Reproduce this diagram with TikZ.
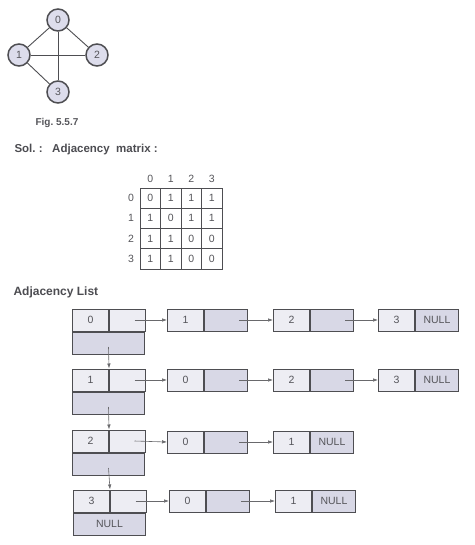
\documentclass[tikz,border=0pt]{standalone}
\usepackage{fontspec}
\setsansfont{Liberation Sans}
\definecolor{lsLine}{HTML}{4E4E52}
\definecolor{lsText}{HTML}{55555A}
\definecolor{lsNode}{HTML}{DDDDEC}
\definecolor{lsLight}{HTML}{EDEDF3}
\definecolor{lsDark}{HTML}{D8D8E6}
\usetikzlibrary{arrows.meta}

\begin{document}
\begin{tikzpicture}[x=1pt, y=-1pt, font=\sffamily, text=lsText,
  vertex/.style={circle, draw=lsLine, line width=1.5pt, fill=lsNode,
    minimum size=22pt, inner sep=0pt, font=\sffamily\fontsize{10.5}{12}\selectfont},
  edge/.style={lsLine, line width=0.9pt},
  mcell/.style={draw=lsLine, line width=0.9pt, minimum width=20.5pt,
    minimum height=20.25pt, inner sep=0pt, font=\sffamily\fontsize{10.5}{12}\selectfont},
  datacell/.style={draw=lsLine, line width=1pt, fill=lsLight, anchor=west,
    minimum width=36pt, minimum height=22pt, inner sep=0pt,
    font=\sffamily\fontsize{10.5}{12}\selectfont},
  ptrcell/.style={datacell, fill=lsDark, minimum width=43pt},
  headbot/.style={datacell, fill=lsDark, anchor=north west, minimum width=72pt},
  link/.style={lsLine!85, line width=0.6pt, -{Latex[length=5pt,width=3.5pt]}},
  title/.style={font=\sffamily\bfseries\fontsize{11.5}{13}\selectfont,
    text=lsText!90!black, anchor=west}]
  \useasboundingbox (0,0) rectangle (474,545);

  % Graph of Fig. 5.5.7
  \node[vertex] (g0) at (58,20) {0};
  \node[vertex] (g1) at (19,55) {1};
  \node[vertex] (g2) at (97,55) {2};
  \node[vertex] (g3) at (58,92) {3};
  \draw[edge] (g0) -- (g1);
  \draw[edge] (g0) -- (g2);
  \draw[edge] (g0) -- (g3);
  \draw[edge] (g1) -- (g2);
  \draw[edge] (g1) -- (g3);
  \node[font=\sffamily\bfseries\fontsize{10}{12}\selectfont] (fig) at (57,123) {Fig.\ 5.5.7};

  % Adjacency matrix
  \node[title] (sol) at (11,150) {Sol.\ :\ \ \ Adjacency\ \ matrix\ :};
  \foreach \c in {0,...,3} {
    \node[font=\sffamily\fontsize{10.5}{12}\selectfont] (mc\c) at (150.25+20.5*\c,179) {\c};
    \node[font=\sffamily\fontsize{10.5}{12}\selectfont] (mr\c) at (131,198.1+20.25*\c) {\c};
  }
  \foreach \v [count=\i from 0] in {0,1,1,1, 1,0,1,1, 1,1,0,0, 1,1,0,0} {
    \pgfmathtruncatemacro{\r}{\i/4}
    \pgfmathtruncatemacro{\c}{\i-4*\r}
    \node[mcell] (m\r\c) at (150.25+20.5*\c,198.1+20.25*\r) {\v};
  }

  % Adjacency list
  \node[title, font=\sffamily\bfseries\fontsize{12}{14}\selectfont] (adj) at (10,292) {Adjacency List};

  % row 0
  \node[datacell] (h0v) at (72,320) {0};
  \node[datacell] (h0p) at (h0v.east) {};
  \node[headbot] (h0b) at (h0v.south west) {};
  \node[datacell] (r0a) at (167,320) {1};
  \node[ptrcell] (r0ap) at (r0a.east) {};
  \node[datacell] (r0b) at (273,320) {2};
  \node[ptrcell] (r0bp) at (r0b.east) {};
  \node[datacell] (r0c) at (378,320) {3};
  \node[ptrcell] (r0cp) at (r0c.east) {NULL};

  % row 1
  \node[datacell] (h1v) at (72,380) {1};
  \node[datacell] (h1p) at (h1v.east) {};
  \node[headbot] (h1b) at (h1v.south west) {};
  \node[datacell] (r1a) at (167,380) {0};
  \node[ptrcell] (r1ap) at (r1a.east) {};
  \node[datacell] (r1b) at (273,380) {2};
  \node[ptrcell] (r1bp) at (r1b.east) {};
  \node[datacell] (r1c) at (378,380) {3};
  \node[ptrcell] (r1cp) at (r1c.east) {NULL};

  % row 2
  \node[datacell] (h2v) at (72,441) {2};
  \node[datacell] (h2p) at (h2v.east) {};
  \node[headbot] (h2b) at (h2v.south west) {};
  \node[datacell] (r2a) at (167,442) {0};
  \node[ptrcell] (r2ap) at (r2a.east) {};
  \node[datacell] (r2b) at (273,442) {1};
  \node[ptrcell] (r2bp) at (r2b.east) {NULL};

  % row 3
  \node[datacell] (h3v) at (73,501) {3};
  \node[datacell] (h3p) at (h3v.east) {};
  \node[headbot] (h3b) at (h3v.south west) {NULL};
  \node[datacell] (r3a) at (169,501) {0};
  \node[ptrcell] (r3ap) at (r3a.east) {};
  \node[datacell] (r3b) at (275,501) {1};
  \node[ptrcell] (r3bp) at (r3b.east) {NULL};

  % links along the rows
  \draw[link] ([xshift=7pt]h0p.center) -- (r0a.west);
  \draw[link] ([xshift=13pt]r0ap.center) -- (r0b.west);
  \draw[link] ([xshift=13pt]r0bp.center) -- (r0c.west);
  \draw[link] ([xshift=7pt]h1p.center) -- (r1a.west);
  \draw[link] ([xshift=13pt]r1ap.center) -- (r1b.west);
  \draw[link] ([xshift=13pt]r1bp.center) -- (r1c.west);
  \draw[link] ([xshift=7pt]h2p.center) -- (r2a.west);
  \draw[link] ([xshift=13pt]r2ap.center) -- (r2b.west);
  \draw[link] ([xshift=7pt]h3p.center) -- (r3a.west);
  \draw[link] ([xshift=13pt]r3ap.center) -- (r3b.west);

  % links down the header list
  \draw[link] ([yshift=-4pt]h0b.center) -- (h1v.north east);
  \draw[link] ([yshift=-4pt]h1b.center) -- (h2v.north east);
  \draw[link] ([yshift=-4pt]h2b.center) -- (h3v.north east);
\end{tikzpicture}
\end{document}
